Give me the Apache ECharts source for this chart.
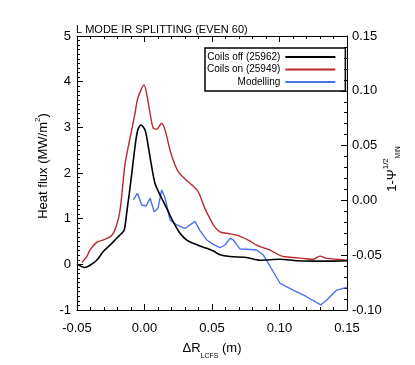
<!DOCTYPE html>
<html><head><meta charset="utf-8">
<script src="https://cdn.jsdelivr.net/npm/echarts@6/dist/echarts.min.js"></script>
<style>html,body{margin:0;padding:0;background:#fff}#c{width:415px;height:365px}</style>
</head><body><div id="c"></div>
<script>
// Coils off (25962) — heat flux, MW/m^2 (left axis)
const offX = [-0.0500,-0.0441,-0.0404,-0.0354,-0.0305,-0.0256,-0.0206,-0.0169,-0.0150,-0.0132,-0.0100,-0.0070,-0.0050,-0.0026,0.0004,0.0028,0.0053,0.0078,0.0115,0.0164,0.0213,0.0263,0.0313,0.0361,0.0411,0.0461,0.0510,0.0559,0.0633,0.0757,0.0856,0.1004,0.1127,0.1250,0.1374,0.1500];
const offY = [0.01,-0.07,-0.02,0.09,0.28,0.42,0.57,0.68,0.75,1.12,1.85,2.58,2.94,3.05,2.94,2.58,2.14,1.77,1.52,1.23,0.93,0.68,0.53,0.46,0.40,0.35,0.29,0.21,0.17,0.15,0.09,0.11,0.08,0.07,0.07,0.08];
// Coils on (25949) — heat flux, MW/m^2 (left axis)
const onX = [-0.0465,-0.0428,-0.0404,-0.0354,-0.0300,-0.0243,-0.0206,-0.0181,-0.0157,-0.0144,-0.0120,-0.0095,-0.0070,-0.0053,-0.0026,-0.0004,0.0016,0.0041,0.0065,0.0090,0.0127,0.0152,0.0189,0.0213,0.0250,0.0300,0.0350,0.0398,0.0448,0.0485,0.0520,0.0559,0.0609,0.0683,0.0769,0.0831,0.0930,0.1016,0.1102,0.1176,0.1250,0.1300,0.1350,0.1424,0.1500];
const onY = [0.04,0.17,0.31,0.48,0.54,0.63,0.86,1.19,1.85,2.20,2.58,2.94,3.31,3.60,3.82,3.93,3.74,3.31,2.98,2.96,3.09,2.94,2.50,2.28,2.03,1.87,1.74,1.59,1.22,1.00,0.82,0.71,0.68,0.64,0.53,0.42,0.31,0.18,0.15,0.13,0.11,0.18,0.13,0.11,0.09];
// Modelling — 1-psi^(1/2)_MIN (right axis)
const modX = [-0.0083,-0.0052,-0.0021,0.0011,0.0041,0.0072,0.0100,0.0127,0.0152,0.0189,0.0239,0.0300,0.0374,0.0411,0.0461,0.0510,0.0559,0.0596,0.0633,0.0658,0.0707,0.0757,0.0831,0.0880,0.0954,0.1004,0.1102,0.1201,0.1305,0.1350,0.1424,0.1498];
const modY = [0.0004,0.0065,-0.0042,-0.0051,0.0019,-0.0103,-0.0072,0.0095,0.0025,-0.0179,-0.0224,-0.0256,-0.0192,-0.0275,-0.0361,-0.0401,-0.0432,-0.0407,-0.0346,-0.0361,-0.0443,-0.0446,-0.0453,-0.0498,-0.0651,-0.0756,-0.0818,-0.0879,-0.0954,-0.0909,-0.0818,-0.0793];

const seriesNames = ['Coils off (25962)','Coils on (25949)','Modelling'];
const titleText = 'L MODE IR SPLITTING (EVEN 60)';

const zip = (xs, ys) => xs.map((x, i) => [x, ys[i]]);
const FONT = '"Liberation Sans", Arial, Helvetica, sans-serif';
const axisLine = {show: true, onZero: false, lineStyle: {color: '#000', width: 1}};

const chart = echarts.init(document.getElementById('c'), null, {renderer: 'canvas'});
chart.setOption({
  animation: false,
  backgroundColor: '#fff',
  textStyle: {fontFamily: FONT, color: '#000'},
  title: {text: titleText, left: 76, top: 24, padding: 0,
    textStyle: {fontSize: 11, fontWeight: 'normal', color: '#000', fontFamily: FONT}},
  legend: {
    orient: 'vertical', left: 205, top: 48, align: 'right',
    itemWidth: 50, itemHeight: 2, itemGap: 0.5, icon: 'rect',
    padding: [3, 10, 3, 2], borderColor: '#000', borderWidth: 1.5,
    textStyle: {fontSize: 10, width: 66, lineHeight: 12, color: '#000', fontFamily: FONT},
    data: seriesNames
  },
  grid: {left: 77, right: 68, top: 36, bottom: 55, containLabel: false, outerBoundsMode: 'none'},
  xAxis: [{
    type: 'value', min: -0.05, max: 0.15, interval: 0.05, position: 'bottom',
    axisLine: axisLine,
    axisTick: {inside: true, length: 6, lineStyle: {color: '#000'}},
    minorTick: {show: true, splitNumber: 5, length: 3, lineStyle: {color: '#000'}},
    splitLine: {show: false},
    axisLabel: {fontSize: 13, margin: 12, color: '#000', fontFamily: FONT, formatter: v => v.toFixed(2)},
    name: '{a|ΔR}{s|LCFS}{a| (m)}', nameLocation: 'middle', nameGap: 26, nameMoveOverlap: false,
    nameTextStyle: {rich: {a: {fontSize: 13, lineHeight: 24, color: '#000', fontFamily: FONT},
      s: {fontSize: 7, verticalAlign: 'bottom', color: '#000', fontFamily: FONT}}}
  }, {
    type: 'value', min: -0.05, max: 0.15, interval: 0.05, position: 'top',
    axisLine: axisLine,
    axisTick: {inside: true, length: 6, lineStyle: {color: '#000'}},
    minorTick: {show: true, splitNumber: 5, length: 3, lineStyle: {color: '#000'}},
    splitLine: {show: false}, axisLabel: {show: false}
  }],
  yAxis: [{
    type: 'value', min: -1, max: 5, interval: 1, position: 'left',
    axisLine: axisLine,
    axisTick: {inside: true, length: 6, lineStyle: {color: '#000'}},
    minorTick: {show: true, splitNumber: 10, length: 3, lineStyle: {color: '#000'}},
    splitLine: {show: false},
    axisLabel: {fontSize: 13, margin: 6, color: '#000', fontFamily: FONT},
    name: '{a|Heat flux (MW/m}{s|2}{a|)}', nameLocation: 'middle', nameRotate: 90, nameGap: 25, nameMoveOverlap: false,
    nameTextStyle: {padding: [0, 0, 0, 14], rich: {a: {fontSize: 13, lineHeight: 18, color: '#000', fontFamily: FONT},
      s: {fontSize: 8, verticalAlign: 'top', color: '#000', fontFamily: FONT}}}
  }, {
    type: 'value', min: -0.10, max: 0.15, interval: 0.05, position: 'right',
    axisLine: axisLine,
    axisTick: {inside: true, length: 6, lineStyle: {color: '#000'}},
    minorTick: {show: true, splitNumber: 5, length: 3, lineStyle: {color: '#000'}},
    splitLine: {show: false},
    axisLabel: {fontSize: 13, margin: 5, color: '#000', fontFamily: FONT, formatter: v => v.toFixed(2)},
    name: '{a|1-Ψ}{p|1/2}{b|MIN}', nameLocation: 'middle', nameRotate: 90, nameGap: 35, nameMoveOverlap: false,
    nameTextStyle: {padding: [0, 0, 0, 8], rich: {a: {fontSize: 13, lineHeight: 20, color: '#000', fontFamily: FONT},
      p: {fontSize: 8, verticalAlign: 'top', color: '#000', fontFamily: FONT},
      b: {fontSize: 6.5, verticalAlign: 'bottom', color: '#000', fontFamily: FONT}}}
  }],
  series: [{
    name: seriesNames[0], type: 'line', xAxisIndex: 0, yAxisIndex: 0, symbol: 'none', smooth: 0.3,
    color: '#000', lineStyle: {color: '#000', width: 1.6}, data: zip(offX, offY), z: 3
  }, {
    name: seriesNames[1], type: 'line', xAxisIndex: 0, yAxisIndex: 0, symbol: 'none', smooth: 0.3,
    color: '#b8282d', lineStyle: {color: '#b8282d', width: 1.4}, data: zip(onX, onY), z: 2
  }, {
    name: seriesNames[2], type: 'line', xAxisIndex: 0, yAxisIndex: 1, symbol: 'none', smooth: false,
    color: '#4a72e8', lineStyle: {color: '#4a72e8', width: 1.4}, data: zip(modX, modY), z: 2
  }]
});
</script></body></html>
